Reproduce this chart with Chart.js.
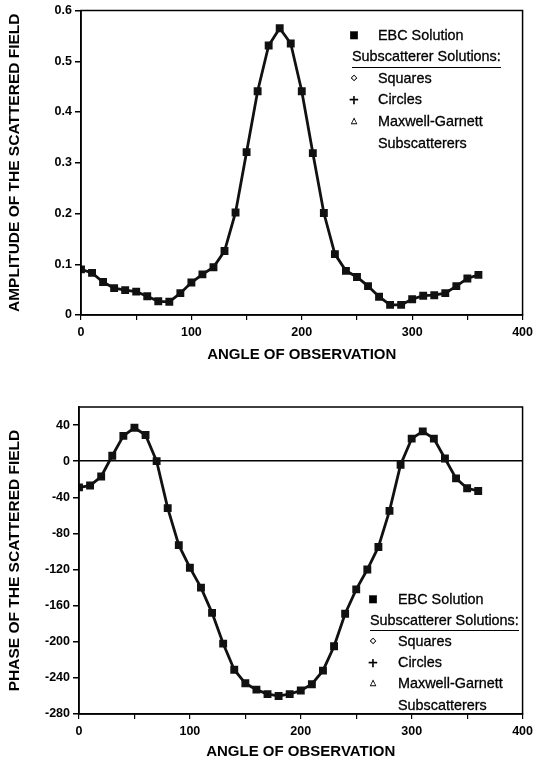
<!DOCTYPE html>
<html>
<head>
<meta charset="utf-8">
<script src="https://cdn.jsdelivr.net/npm/chart.js@4.4.1/dist/chart.umd.min.js"></script>
<style>
  html, body { margin: 0; padding: 0; background: #fff; overflow: hidden; }
  .wrap { position: absolute; left: 0; width: 538px; }
  #topWrap { top: 0; height: 370px; }
  #botWrap { top: 370px; height: 394px; }
  .leg { position: absolute; font: 14.4px 'Liberation Sans', Arial, sans-serif; color: #000; line-height: 1;
         -webkit-text-stroke: 0.3px #000; white-space: nowrap; }
  .row { position: absolute; transform: translateY(-50%); }
  .mk { position: absolute; transform: translate(-50%, -50%); font-family: 'DejaVu Sans', sans-serif; }
  .ul { position: absolute; height: 0; border-top: 1.5px solid #000; }
</style>
</head>
<body>
<div class="wrap" id="topWrap"><canvas id="amp"></canvas></div>
<div class="wrap" id="botWrap"><canvas id="phs"></canvas></div>
<div id="legends"></div>
<script>
// angle of observation, every 10 degrees
const angles = [0, 10, 20, 30, 40, 50, 60, 70, 80, 90, 100, 110, 120, 130, 140, 150, 160, 170, 180,
  190, 200, 210, 220, 230, 240, 250, 260, 270, 280, 290, 300, 310, 320, 330, 340, 350, 360];
// EBC solution (subscatterer solutions overlap it)
const amplitude = [0.090, 0.083, 0.065, 0.053, 0.049, 0.046, 0.037, 0.027, 0.026, 0.043, 0.064, 0.080,
  0.094, 0.126, 0.202, 0.321, 0.441, 0.531, 0.565, 0.535, 0.441, 0.319, 0.201, 0.120, 0.087, 0.075,
  0.057, 0.036, 0.020, 0.020, 0.031, 0.038, 0.039, 0.043, 0.057, 0.072, 0.079];
const phase = [-29, -27, -17, 6, 28, 37, 29, 0, -52, -93, -118, -140, -168, -202, -231, -246, -253,
  -258, -260, -258, -254, -247, -232, -205, -169, -142, -120, -95, -55, -4, 25, 33, 25, 3, -19, -30, -33];

const legendItems = ['EBC Solution', 'Subscatterer Solutions:', 'Squares', 'Circles', 'Maxwell-Garnett', 'Subscatterers'];
const legendMarks = ['\u25A0', '', '\u25C7', '+', '\u25B3', ''];

const FONT = "'Liberation Sans', Arial, sans-serif";
const INK = '#000';

const boxPlugin = {
  id: 'box',
  afterDraw(chart) {
    const { ctx, chartArea: a } = chart;
    ctx.save();
    ctx.strokeStyle = INK;
    ctx.lineWidth = 1.5;
    ctx.strokeRect(a.left, a.top, a.right - a.left, a.bottom - a.top);
    ctx.restore();
  },
};

function makeChart(id, values, opts) {
  return new Chart(document.getElementById(id), {
    type: 'line',
    data: {
      datasets: [{
        data: angles.map((a, i) => ({ x: a, y: values[i] })),
        borderColor: '#111',
        backgroundColor: '#111',
        borderWidth: 2.8,
        pointStyle: 'rect',
        pointRadius: 3.6,
        tension: 0,
      }],
    },
    options: {
      responsive: true,
      maintainAspectRatio: false,
      animation: false,
      layout: { padding: { top: opts.top, left: 0, right: 0, bottom: 0 } },
      plugins: { legend: { display: false }, tooltip: { enabled: false } },
      scales: {
        x: {
          type: 'linear', min: 0, max: 400,
          afterFit: (s) => { s.height = opts.xh; },
          border: { color: INK, width: 1.5 },
          grid: { drawOnChartArea: false, color: INK, tickLength: 5, lineWidth: 1.2 },
          ticks: {
            stepSize: 50, padding: 5, color: INK, maxRotation: 0, autoSkip: false,
            font: { family: FONT, size: 12.5, weight: 'bold' },
            callback: (v) => (v % 100 === 0 ? String(v) : ''),
          },
          title: {
            display: true, text: 'ANGLE OF OBSERVATION', color: INK,
            font: { family: FONT, size: 15, weight: 'bold' },
            padding: { top: 0, bottom: opts.xtb },
          },
        },
        y: {
          min: opts.min, max: opts.max,
          afterFit: (s) => { s.width = opts.yw; },
          border: { color: INK, width: 1.5 },
          grid: {
            drawOnChartArea: !!opts.zeroLine,
            color: (c) => (opts.zeroLine && c.tick && c.tick.value === 0 ? INK : 'rgba(0,0,0,0)'),
            lineWidth: 1.5,
            tickColor: INK, tickLength: 6,
          },
          ticks: {
            stepSize: opts.step, includeBounds: false, padding: 3, color: INK,
            font: { family: FONT, size: 12.5, weight: 'bold' },
          },
          title: {
            display: true, text: opts.ytitle, color: INK,
            font: { family: FONT, size: 15.5, weight: 'bold' },
            padding: { top: 5, bottom: 0 },
          },
        },
      },
    },
    plugins: [boxPlugin],
  });
}

makeChart('amp', amplitude, {
  top: 10, xh: 55, xtb: 6, yw: 81, min: 0, max: 0.6, step: 0.1,
  ytitle: 'AMPLITUDE OF THE SCATTERED FIELD',
});
makeChart('phs', phase, {
  top: 37, xh: 50, xtb: 3, yw: 79, min: -280, max: 60, step: 40, zeroLine: true,
  ytitle: 'PHASE OF THE SCATTERED FIELD',
});

// legends drawn inside each plot
function legend(markX, textX, ys, ulY, ulX0, ulX1) {
  const box = document.createElement('div');
  box.className = 'leg';
  legendItems.forEach((t, i) => {
    const r = document.createElement('div');
    r.className = 'row';
    r.style.top = ys[i] + 'px';
    r.style.left = (i === 1 ? ulX0 : textX) + 'px';
    r.textContent = t;
    box.appendChild(r);
    if (legendMarks[i]) {
      const m = document.createElement('div');
      m.className = 'mk';
      m.style.left = markX + 'px';
      m.style.top = ys[i] + 'px';
      m.style.fontSize = i === 0 ? '10px' : (i === 3 ? '13px' : '8px');
      m.style.fontWeight = 'bold';
      m.textContent = legendMarks[i];
      box.appendChild(m);
    }
  });
  const u = document.createElement('div');
  u.className = 'ul';
  u.style.top = ulY + 'px';
  u.style.left = ulX0 + 'px';
  u.style.width = (ulX1 - ulX0) + 'px';
  box.appendChild(u);
  document.getElementById('legends').appendChild(box);
}
legend(354, 378, [35, 56, 78, 99, 121, 143], 66.5, 352, 501);
legend(373, 398, [599, 620, 641, 662, 683, 705], 629.5, 370, 519);
</script>
</body>
</html>
